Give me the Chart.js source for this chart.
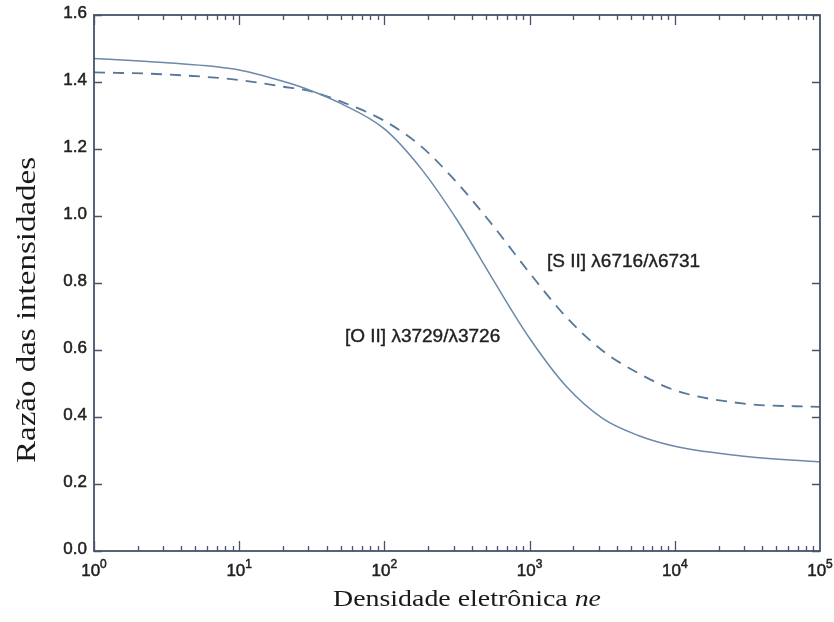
<!DOCTYPE html>
<html>
<head>
<meta charset="utf-8">
<script src="https://cdn.jsdelivr.net/npm/chart.js@4.4.0/dist/chart.umd.min.js"></script>
<style>
html, body { margin: 0; padding: 0; background: #fff; }
</style>
</head>
<body>
<canvas id="MyChart" width="834" height="622"></canvas>
<script>
// electron density (cm^-3) and line intensity ratios
const densities = [1, 3, 10, 20, 30, 50, 100, 180, 320, 560, 1000, 1800, 3200, 5600, 1e4, 3e4, 1e5];
const ratioOII = [1.470, 1.458, 1.436, 1.402, 1.377, 1.336, 1.260, 1.140, 0.985, 0.810, 0.635, 0.490, 0.395, 0.345, 0.313, 0.283, 0.266];
const ratioSII = [1.429, 1.423, 1.406, 1.386, 1.374, 1.342, 1.284, 1.207, 1.097, 0.971, 0.830, 0.697, 0.597, 0.531, 0.480, 0.440, 0.430];

const yTicks = [0, 0.2, 0.4, 0.6, 0.8, 1.0, 1.2, 1.4, 1.6];
const yTickLabels = ['0.0', '0.2', '0.4', '0.6', '0.8', '1.0', '1.2', '1.4', '1.6'];
const xDecades = [1, 10, 100, 1000, 10000, 100000];
const xDecadeExps = ['0', '1', '2', '3', '4', '5'];

const labelOII = '[O II] \u03bb3729/\u03bb3726';
const labelSII = '[S II] \u03bb6716/\u03bb6731';
const xTitle = 'Densidade eletr\u00f4nica ';
const xTitleVar = 'ne';
const yTitle = 'Raz\u00e3o das intensidades';

function toPoints(ys) {
    return densities.map((d, i) => ({ x: d, y: ys[i] }));
}

const SANS = '"Liberation Sans", Arial, sans-serif';
const SERIF = '"Liberation Serif", "Times New Roman", serif';

// sans text with a hairline stroke so it reads a little heavier
function heavyText(ctx, s, x, y) {
    ctx.fillText(s, x, y);
    ctx.strokeText(s, x, y);
}

const frame = {
    id: 'frame',
    afterDraw(chart) {
        const ctx = chart.ctx;
        const a = chart.chartArea;
        const xs = chart.scales.x;
        const ys = chart.scales.y;
        ctx.save();

        // box
        ctx.strokeStyle = '#48536b';
        ctx.lineWidth = 1.8;
        ctx.strokeRect(a.left, a.top, a.right - a.left, a.bottom - a.top);

        // inward ticks on the log axis
        ctx.lineWidth = 1.3;
        ctx.beginPath();
        for (let d = 0; d < 5; d++) {
            for (let k = 1; k <= 9; k++) {
                const px = Math.round(xs.getPixelForValue(k * Math.pow(10, d))) + 0.5;
                const len = k === 1 ? 10 : 5;
                ctx.moveTo(px, a.bottom); ctx.lineTo(px, a.bottom - len);
                ctx.moveTo(px, a.top); ctx.lineTo(px, a.top + len);
            }
        }
        ctx.stroke();

        // inward ticks on the ratio axis
        ctx.beginPath();
        yTicks.forEach(v => {
            const py = Math.round(ys.getPixelForValue(v)) + 0.5;
            ctx.moveTo(a.left, py); ctx.lineTo(a.left + 8, py);
            ctx.moveTo(a.right, py); ctx.lineTo(a.right - 8, py);
        });
        ctx.stroke();

        ctx.fillStyle = '#222';
        ctx.strokeStyle = '#222';
        ctx.lineWidth = 0.5;
        ctx.font = '17px ' + SANS;
        ctx.textAlign = 'right';
        ctx.textBaseline = 'middle';
        yTicks.forEach((v, i) => {
            heavyText(ctx, yTickLabels[i], a.left - 7, ys.getPixelForValue(v) - 2);
        });

        // 10^n labels
        ctx.textAlign = 'left';
        ctx.textBaseline = 'alphabetic';
        xDecades.forEach((v, i) => {
            const px = xs.getPixelForValue(v);
            ctx.font = '17px ' + SANS;
            const wb = ctx.measureText('10').width;
            ctx.font = '12px ' + SANS;
            const we = ctx.measureText(xDecadeExps[i]).width;
            const x0 = px - (wb + we) / 2;
            ctx.font = '17px ' + SANS;
            heavyText(ctx, '10', x0, a.bottom + 25);
            ctx.font = '12px ' + SANS;
            heavyText(ctx, xDecadeExps[i], x0 + wb, a.bottom + 17);
        });

        // axis titles, widened to their drawn length
        ctx.fillStyle = '#1a1a1a';
        ctx.save();
        ctx.font = '24px ' + SERIF;
        const w1 = ctx.measureText(xTitle).width;
        ctx.font = 'italic 24px ' + SERIF;
        const w2 = ctx.measureText(xTitleVar).width;
        const sx = 268 / (w1 + w2);
        ctx.translate(333, a.bottom + 55);
        ctx.scale(sx, 1);
        ctx.font = '24px ' + SERIF;
        ctx.fillText(xTitle, 0, 0);
        ctx.font = 'italic 24px ' + SERIF;
        ctx.fillText(xTitleVar, w1, 0);
        ctx.restore();

        ctx.save();
        ctx.font = '27px ' + SERIF;
        const wy = ctx.measureText(yTitle).width;
        ctx.translate(35, 310);
        ctx.rotate(-Math.PI / 2);
        ctx.scale(306 / wy, 1);
        ctx.textAlign = 'center';
        ctx.fillText(yTitle, 0, 0);
        ctx.restore();

        // curve labels
        ctx.fillStyle = '#222';
        ctx.strokeStyle = '#222';
        ctx.lineWidth = 0.4;
        ctx.font = '19px ' + SANS;
        ctx.textAlign = 'left';
        ctx.textBaseline = 'middle';
        heavyText(ctx, labelSII, xs.getPixelForValue(1318), ys.getPixelForValue(0.863));
        heavyText(ctx, labelOII, xs.getPixelForValue(53.5), ys.getPixelForValue(0.639));

        ctx.restore();
    }
};

const ctx = document.getElementById('MyChart').getContext('2d');
const myChart = new Chart(ctx, {
    type: 'line',
    data: {
        datasets: [
            {
                label: labelOII,
                data: toPoints(ratioOII),
                borderColor: '#6c89a8',
                borderWidth: 1.5,
                pointRadius: 0,
                fill: false,
                cubicInterpolationMode: 'monotone'
            },
            {
                label: labelSII,
                data: toPoints(ratioSII),
                borderColor: '#56779a',
                borderWidth: 1.8,
                borderDash: [11, 8],
                pointRadius: 0,
                fill: false,
                cubicInterpolationMode: 'monotone'
            }
        ]
    },
    options: {
        responsive: false,
        animation: false,
        layout: { padding: { left: 94, right: 14, top: 15, bottom: 71 } },
        plugins: { legend: { display: false }, tooltip: { enabled: false } },
        scales: {
            x: { type: 'logarithmic', min: 1, max: 100000, display: false },
            y: { type: 'linear', min: 0, max: 1.6, display: false }
        }
    },
    plugins: [frame]
});
</script>
</body>
</html>
